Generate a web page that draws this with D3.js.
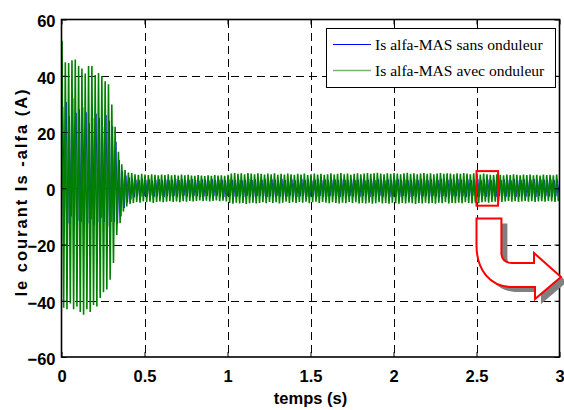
<!DOCTYPE html>
<html lang="en">
<head>
  <meta charset="UTF-8">
  <title>Is alfa - MAS</title>
  <script src="https://d3js.org/d3.v7.min.js"></script>
  <style>
    body { margin: 0; background: #fff; }
    .tick text { font-family: "Liberation Sans", Arial, sans-serif; font-weight: bold; font-size: 16.5px; fill: #000; }
    .grid line { stroke: #000; stroke-width: 1; stroke-dasharray: 8,5; shape-rendering: crispEdges; }
  </style>
</head>
<body>
  <div id="chart"></div>
  <script>
    // one cycle = 20 ms (50 Hz); each array holds one extreme per cycle
    const period = 0.02;
    const xTicks = [0, 0.5, 1, 1.5, 2, 2.5, 3];
    const yTicks = [-60, -40, -20, 0, 20, 40, 60];
    const seriesNames = ["Is alfa-MAS sans onduleur", "Is alfa-MAS avec onduleur"];

    // green (avec onduleur): positive peaks, then negative peaks
    const greenHigh = [
      52.4, 44.8, 44.5, 45.5, 45.8, 43.5, 42.6, 40.8, 43.5, 43.5,
      40.3, 41.0, 39.9, 38.0, 37.0, 29.8, 21.9, 13.0, 8.5, 6.5,
      5.6, 5.4, 5.0, 4.8, 5.1, 4.9, 4.7, 5.0, 4.8, 4.6,
      4.9, 4.7, 5.0, 4.6, 4.8, 4.5, 4.9, 4.6, 4.8, 4.5,
      4.4, 4.7, 4.5, 4.3, 4.6, 4.4, 4.7, 4.5, 4.6, 4.4,
      4.8, 5.2, 5.4, 5.1, 5.3, 5.0, 5.4, 5.2, 5.0, 5.3,
      5.1, 4.9, 5.2, 5.0, 5.3, 4.8, 5.1, 4.9, 5.2, 5.0,
      4.8, 5.1, 4.9, 5.2, 4.7, 5.0, 5.2, 4.9, 5.1, 4.8,
      5.0, 5.3, 4.9, 5.1, 5.4, 5.0, 5.2, 4.8, 5.1, 5.3,
      5.0, 5.2, 5.4, 5.1, 5.3, 5.5, 5.2, 5.0, 5.3, 5.1,
      5.4, 5.2, 5.0, 5.3, 5.5, 5.1, 5.3, 5.0, 5.2, 5.4,
      5.1, 5.3, 5.0, 5.2, 5.4, 5.1, 5.3, 5.2, 5.0, 5.3,
      5.1, 5.4, 5.2, 5.0, 5.3, 5.1, 4.9, 5.2, 5.0, 4.8,
      4.7, 5.0, 4.8, 4.6, 4.9, 4.7, 5.0, 4.8, 4.6, 4.9,
      4.7, 4.9, 4.6, 4.8, 4.5, 4.9, 4.7, 4.8, 4.6, 4.9
    ];
    const greenLow = [
      -42.5, -43.0, -41.0, -43.0, -42.0, -44.0, -45.0, -43.0, -44.0, -41.5,
      -42.0, -39.0, -37.0, -36.0, -32.5, -26.6, -16.6, -12.4, -8.3, -6.5,
      -5.6, -5.2, -4.9, -5.1, -4.7, -5.0, -4.8, -5.2, -4.9, -4.7,
      -5.0, -4.8, -4.6, -4.9, -4.7, -5.0, -4.6, -4.8, -4.5, -4.7,
      -4.5, -4.3, -4.6, -4.4, -4.7, -4.5, -4.3, -4.6, -4.4, -4.7,
      -5.2, -5.5, -5.1, -5.4, -5.2, -5.6, -5.3, -5.1, -5.4, -5.2,
      -5.0, -5.3, -4.9, -5.2, -5.0, -5.4, -5.1, -4.8, -5.2, -5.0,
      -5.2, -4.9, -5.1, -4.8, -5.3, -5.0, -4.8, -5.2, -4.9, -5.1,
      -5.3, -5.0, -5.2, -5.4, -5.1, -5.3, -4.9, -5.2, -5.0, -5.4,
      -5.2, -5.4, -5.1, -5.5, -5.3, -5.0, -5.4, -5.2, -5.5, -5.1,
      -5.3, -5.5, -5.2, -5.4, -5.1, -5.3, -5.6, -5.2, -5.4, -5.1,
      -5.4, -5.2, -5.5, -5.1, -5.3, -5.0, -5.4, -5.2, -5.3, -5.1,
      -5.3, -5.0, -5.2, -5.4, -5.1, -5.3, -5.0, -4.8, -5.1, -4.9,
      -4.8, -4.6, -4.9, -4.7, -4.5, -4.8, -4.6, -4.9, -4.7, -4.5,
      -4.8, -4.6, -4.9, -4.7, -4.6, -4.8, -4.5, -4.7, -4.9, -4.6
    ];

    // blue (sans onduleur), read between the green strokes
    const blueHigh = [
      29.0, 30.7, 25.6, 32.0, 26.8, 28.0, 28.8, 27.0, 23.0, 25.0,
      26.5, 25.0, 21.9, 26.0, 24.0, 22.0, 16.5, 10.0, 6.0, 4.5,
      3.8, 3.3, 3.0, 2.8, 3.2, 2.9, 3.1, 2.7, 3.0, 3.2,
      2.9, 3.1, 2.8, 3.0, 3.3, 2.9, 3.1, 2.8, 3.0, 3.2,
      2.9, 2.7, 3.1, 3.0, 2.8, 3.2, 2.9, 3.1, 3.0, 2.8,
      3.2, 3.0, 2.9, 3.1, 2.8, 3.0, 3.3, 2.9, 3.1, 2.8,
      3.0, 3.2, 2.9, 3.1, 3.0, 2.8, 3.2, 2.9, 3.0, 3.1,
      2.8, 3.0, 3.2, 2.9, 3.1, 2.7, 3.0, 3.2, 2.9, 3.1,
      2.8, 3.0, 3.1, 2.9, 3.2, 3.0, 2.8, 3.1, 2.9, 3.0,
      3.2, 2.8, 3.0, 3.1, 2.9, 3.2, 3.0, 2.8, 3.1, 2.9,
      3.0, 3.2, 2.9, 3.1, 2.8, 3.0, 3.2, 2.9, 3.1, 3.0,
      2.8, 3.1, 3.0, 2.9, 3.2, 2.8, 3.0, 3.1, 2.9, 3.2,
      3.0, 2.8, 3.1, 2.9, 3.0, 3.2, 2.8, 3.0, 3.1, 2.9,
      3.0, 3.2, 2.9, 3.1, 3.0, 2.8, 3.2, 2.9, 3.0, 3.1,
      2.8, 3.0, 3.2, 2.9, 3.1, 3.0, 2.8, 3.1, 2.9, 3.0
    ];
    const blueLow = [
      -11.0, -12.5, -10.0, -13.0, -11.5, -12.0, -10.5, -12.5, -11.0, -13.0,
      -12.0, -10.5, -12.0, -13.5, -12.0, -12.0, -12.5, -10.0, -7.0, -5.0,
      -4.0, -3.2, -2.8, -3.0, -2.7, -2.9, -2.6, -3.0, -2.8, -2.7,
      -3.1, -2.8, -2.9, -2.7, -3.0, -2.8, -2.6, -2.9, -3.0, -2.7,
      -2.8, -3.1, -2.9, -2.7, -3.0, -2.8, -2.6, -2.9, -3.1, -2.8,
      -2.7, -3.0, -2.9, -2.8, -3.1, -2.7, -2.9, -3.0, -2.8, -2.6,
      -2.9, -3.1, -2.8, -3.0, -2.7, -2.9, -2.8, -3.0, -2.6, -2.9,
      -3.1, -2.8, -2.7, -3.0, -2.9, -2.8, -3.1, -2.7, -2.9, -3.0,
      -2.8, -2.6, -2.9, -3.1, -2.8, -3.0, -2.7, -2.9, -2.8, -3.0,
      -2.7, -2.9, -3.1, -2.8, -3.0, -2.7, -2.9, -2.8, -3.1, -2.9,
      -2.8, -3.0, -2.7, -2.9, -3.1, -2.8, -3.0, -2.6, -2.9, -2.8,
      -3.0, -2.7, -2.9, -3.1, -2.8, -3.0, -2.7, -2.9, -2.8, -3.0,
      -2.9, -3.1, -2.8, -2.7, -3.0, -2.9, -2.8, -3.1, -2.7, -2.9,
      -3.0, -2.8, -2.7, -3.0, -2.9, -2.8, -3.1, -2.9, -2.7, -3.0,
      -2.8, -2.9, -3.1, -2.7, -3.0, -2.8, -2.9, -3.0, -2.8, -2.9
    ];

    const W = 564, H = 410;
    const plot = { left: 61.5, right: 559.5, top: 19.5, bottom: 357 };

    const x = d3.scaleLinear().domain([0, 3]).range([plot.left, plot.right]);
    const y = d3.scaleLinear().domain([-60, 60]).range([plot.bottom, plot.top]);

    const svg = d3.select("#chart").append("svg")
      .attr("width", W)
      .attr("height", H)
      .style("font-family", "'Liberation Sans', Arial, sans-serif");

    svg.append("defs").append("clipPath").attr("id", "clip")
      .append("rect")
      .attr("x", plot.left).attr("y", plot.top)
      .attr("width", plot.right - plot.left).attr("height", plot.bottom - plot.top);

    // grid
    svg.append("g").attr("class", "grid")
      .selectAll("line").data(xTicks.slice(1, -1)).join("line")
      .attr("x1", d => Math.round(x(d)) + 0.5).attr("x2", d => Math.round(x(d)) + 0.5)
      .attr("y1", plot.top).attr("y2", plot.bottom);
    svg.append("g").attr("class", "grid")
      .selectAll("line").data(yTicks.slice(1, -1)).join("line")
      .attr("y1", d => Math.round(y(d)) + 0.5).attr("y2", d => Math.round(y(d)) + 0.5)
      .attr("x1", plot.left).attr("x2", plot.right);

    // build zigzag from peaks
    function zigzag(high, low, phase) {
      const pts = [];
      high.forEach((v, i) => {
        pts.push({ t: phase + i * period, v: v });
        if (i < low.length) pts.push({ t: phase + period / 2 + i * period, v: low[i] });
      });
      return pts;
    }
    const blueData = zigzag(blueHigh, blueLow, 0.008);
    const greenData = zigzag(greenHigh, greenLow, 0.003);

    const line = d3.line().x(d => x(d.t)).y(d => y(d.v));
    const curves = svg.append("g").attr("clip-path", "url(#clip)");
    curves.append("path").datum(blueData)
      .attr("fill", "none").attr("stroke", "#0000ff").attr("stroke-width", 0.9).attr("d", line);
    curves.append("path").datum(greenData)
      .attr("fill", "none").attr("stroke", "#008000").attr("stroke-width", 1.6).attr("d", line);

    // axes (ticks pointing inward, like matlab)
    svg.append("g")
      .attr("transform", `translate(0,${plot.bottom})`)
      .call(d3.axisBottom(x).tickValues(xTicks).tickFormat(d3.format("")).tickSize(-5).tickPadding(13))
      .call(g => g.select(".domain").remove());
    svg.append("g")
      .attr("transform", `translate(0,${plot.top})`)
      .call(d3.axisTop(x).tickValues(xTicks).tickFormat("").tickSize(-5))
      .call(g => g.select(".domain").remove());
    svg.append("g")
      .attr("transform", `translate(${plot.left},0)`)
      .call(d3.axisLeft(y).tickValues(yTicks).tickSize(-5).tickPadding(6))
      .call(g => g.select(".domain").remove())
      .selectAll("text").attr("dy", "0.45em");
    svg.append("g")
      .attr("transform", `translate(${plot.right},0)`)
      .call(d3.axisRight(y).tickValues(yTicks).tickFormat("").tickSize(-5))
      .call(g => g.select(".domain").remove());
    svg.selectAll(".tick line").attr("stroke", "#000");

    svg.append("rect")
      .attr("x", plot.left).attr("y", plot.top)
      .attr("width", plot.right - plot.left).attr("height", plot.bottom - plot.top)
      .attr("fill", "none").attr("stroke", "#000").attr("stroke-width", 1.6);

    // axis labels
    svg.append("text")
      .attr("x", (plot.left + plot.right) / 2).attr("y", 404)
      .attr("text-anchor", "middle")
      .style("font-weight", "bold").style("font-size", "16.5px")
      .text("temps (s)");
    svg.append("text")
      .attr("transform", `translate(27,${(87 + 297) / 2}) rotate(-90)`)
      .attr("text-anchor", "middle")
      .style("font-weight", "bold").style("font-size", "16.5px")
      .style("letter-spacing", "2px")
      .text("le courant Is -alfa (A)");

    // legend
    const legend = svg.append("g");
    legend.append("rect")
      .attr("x", 326.5).attr("y", 28.5).attr("width", 229).attr("height", 59)
      .attr("fill", "#fff").attr("stroke", "#000").attr("stroke-width", 1);
    const legendColors = ["#0000ff", "#70b870"];
    seriesNames.forEach((name, i) => {
      const ly = 44.5 + i * 26;
      legend.append("line")
        .attr("x1", 333).attr("x2", 371).attr("y1", ly).attr("y2", ly)
        .attr("stroke", legendColors[i]).attr("stroke-width", i ? 1.6 : 1);
      legend.append("text")
        .attr("x", 375).attr("y", ly + 5)
        .style("font-family", "'Liberation Serif', 'Times New Roman', serif")
        .style("font-size", "15.6px")
        .text(name);
    });

    // zoom box and arrow
    svg.append("rect")
      .attr("x", x(2.5)).attr("y", y(6.1))
      .attr("width", x(2.63) - x(2.5)).attr("height", y(-6.2) - y(6.1))
      .attr("fill", "none").attr("stroke", "#ff0000").attr("stroke-width", 2);

    const x0 = x(2.5), x1 = x(2.65);
    const arrowPath = d3.path();
    arrowPath.moveTo(x0, 218.5);
    arrowPath.lineTo(x1, 218.5);
    arrowPath.lineTo(x1, 254);
    arrowPath.quadraticCurveTo(x1 + 1, 263, 512, 263);
    arrowPath.lineTo(534, 263);
    arrowPath.lineTo(534, 253);
    arrowPath.lineTo(561, 277);
    arrowPath.lineTo(535, 299);
    arrowPath.lineTo(535, 287);
    arrowPath.lineTo(512, 287);
    arrowPath.bezierCurveTo(490, 287, x0, 270, x0, 245);
    arrowPath.closePath();

    svg.append("path").attr("d", arrowPath.toString())
      .attr("transform", "translate(6,5)")
      .attr("fill", "#808080");
    svg.append("path").attr("d", arrowPath.toString())
      .attr("fill", "#fff").attr("stroke", "#ff0000").attr("stroke-width", 2)
      .attr("stroke-linejoin", "miter");
  </script>
</body>
</html>
